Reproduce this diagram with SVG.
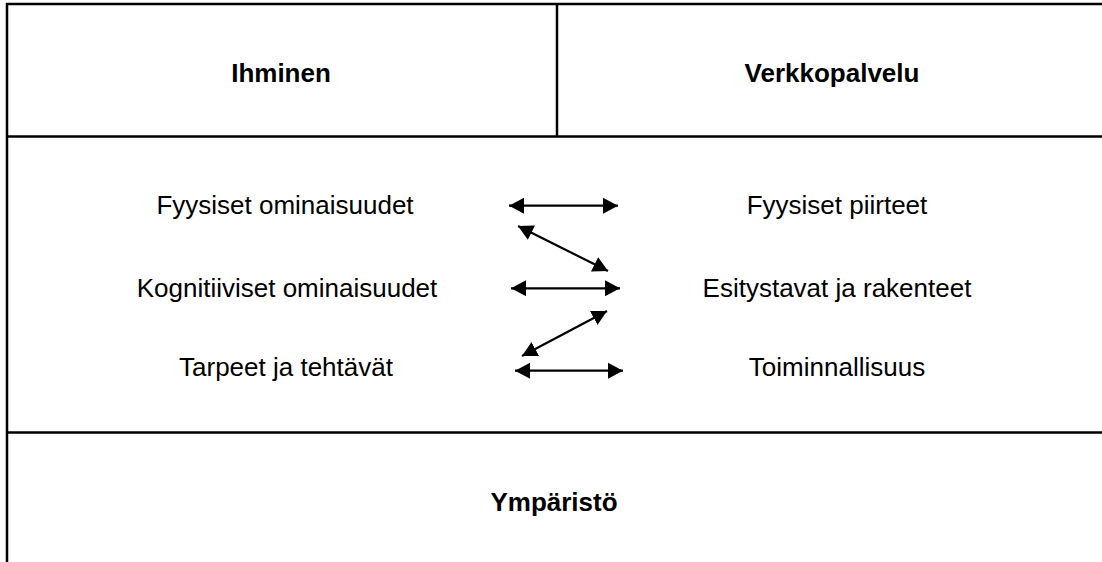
<svg xmlns="http://www.w3.org/2000/svg" width="1102" height="562" viewBox="0 0 1102 562">
  <style>
    .frame { stroke: #000; stroke-width: 2.5; fill: none; }
    .label { font-family: "Liberation Sans", Arial, sans-serif; font-size: 26px; fill: #000; text-anchor: middle; }
    .head { font-weight: bold; }
    .conn { stroke: #000; stroke-width: 2.2; fill: none; marker-start: url(#tip); marker-end: url(#tip); }
  </style>
  <defs>
    <marker id="tip" markerUnits="userSpaceOnUse" markerWidth="16" markerHeight="18" refX="15" refY="8" orient="auto-start-reverse" viewBox="0 0 16 16">
      <path d="M0,0 L15,8 L0,16 z" fill="#000"/>
    </marker>
  </defs>
  <rect width="1102" height="562" fill="#fff"/>

  <!-- table frame -->
  <g id="frame">
    <line class="frame" x1="7" y1="3" x2="7" y2="562"/>
    <line class="frame" x1="6" y1="4" x2="1102" y2="4"/>
    <line class="frame" x1="6" y1="136.5" x2="1102" y2="136.5"/>
    <line class="frame" x1="6" y1="432.5" x2="1102" y2="432.5"/>
    <line class="frame" x1="557" y1="4" x2="557" y2="136.5"/>
  </g>

  <!-- header cells -->
  <g id="ihminen"><text class="label head" x="281" y="82">Ihminen</text></g>
  <g id="verkkopalvelu"><text class="label head" x="832" y="82">Verkkopalvelu</text></g>

  <!-- human side -->
  <g id="fyysiset-ominaisuudet"><text class="label" x="285" y="214">Fyysiset ominaisuudet</text></g>
  <g id="kognitiiviset-ominaisuudet"><text class="label" x="287" y="297">Kognitiiviset ominaisuudet</text></g>
  <g id="tarpeet-ja-tehtavat"><text class="label" x="286" y="376">Tarpeet ja tehtävät</text></g>

  <!-- service side -->
  <g id="fyysiset-piirteet"><text class="label" x="837" y="214">Fyysiset piirteet</text></g>
  <g id="esitystavat-ja-rakenteet"><text class="label" x="837" y="297">Esitystavat ja rakenteet</text></g>
  <g id="toiminnallisuus"><text class="label" x="837" y="376">Toiminnallisuus</text></g>

  <!-- environment -->
  <g id="ymparisto"><text class="label head" x="554" y="511">Ympäristö</text></g>

  <!-- two-headed connectors -->
  <g id="connectors">
    <line class="conn" x1="509" y1="205.7" x2="618" y2="205.7"/>
    <line class="conn" x1="518" y1="226" x2="608" y2="271"/>
    <line class="conn" x1="511" y1="288.3" x2="620" y2="288.3"/>
    <line class="conn" x1="607" y1="311" x2="522" y2="356"/>
    <line class="conn" x1="515" y1="370.7" x2="623" y2="370.7"/>
  </g>
</svg>
